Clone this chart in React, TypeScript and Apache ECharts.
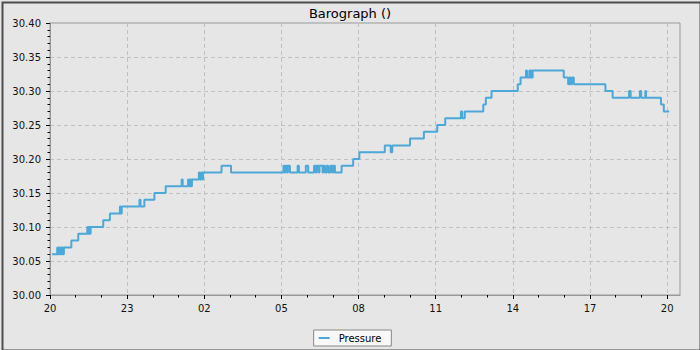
import React, { useEffect, useRef } from "react";
import * as echarts from "echarts";

// hours after 20:00 at which the reading changes, and the reading (inHg) from then on
const hours = [
  0.08, 0.28, 0.31, 0.35, 0.38, 0.42, 0.45, 0.48, 0.51, 0.54, 0.83, 1.1, 1.45, 1.48, 1.52, 1.55, 1.58,
  2.07, 2.33, 2.72, 2.75, 2.79, 3.48, 3.52, 3.67, 4.06, 4.5, 5.12, 5.16, 5.37, 5.41, 5.45, 5.49, 5.52,
  5.79, 5.83, 5.87, 5.91, 5.95, 6.0, 6.67, 7.04, 9.08, 9.12, 9.15, 9.22, 9.25, 9.33, 9.63, 9.68, 9.95,
  10.04, 10.27, 10.33, 10.37, 10.45, 10.48, 10.6, 10.63, 10.69, 10.76, 10.82, 10.9, 10.97, 11.02, 11.08,
  11.34, 11.79, 12.03, 13.02, 13.25, 13.31, 14.0, 14.54, 15.06, 15.37, 15.98, 16.03, 16.13, 16.85,
  16.95, 17.17, 18.19, 18.3, 18.51, 18.55, 18.64, 18.67, 18.7, 18.73, 18.77, 19.98, 20.15, 20.2, 20.25,
  20.3, 20.37, 21.6, 21.88, 22.52, 22.58, 22.94, 22.99, 23.15, 23.18, 23.76, 23.87, 24.08,
];
const pressures = [
  30.06, 30.07, 30.06, 30.07, 30.06, 30.07, 30.06, 30.07, 30.06, 30.07, 30.08, 30.09, 30.1, 30.09, 30.1, 30.09, 30.1,
  30.11, 30.12, 30.13, 30.12, 30.13, 30.14, 30.13, 30.14, 30.15, 30.16, 30.17, 30.16, 30.17, 30.16, 30.17, 30.16, 30.17,
  30.18, 30.17, 30.18, 30.17, 30.18, 30.18, 30.19, 30.18, 30.19, 30.18, 30.19, 30.18, 30.19, 30.18, 30.19, 30.18, 30.19,
  30.18, 30.19, 30.18, 30.19, 30.18, 30.19, 30.18, 30.19, 30.18, 30.19, 30.18, 30.19, 30.18, 30.19, 30.18,
  30.19, 30.2, 30.21, 30.22, 30.21, 30.22, 30.23, 30.24, 30.25, 30.26, 30.27, 30.26, 30.27, 30.28,
  30.29, 30.3, 30.31, 30.32, 30.33, 30.32, 30.33, 30.32, 30.33, 30.32, 30.33, 30.32, 30.31, 30.32, 30.31,
  30.32, 30.31, 30.3, 30.29, 30.3, 30.29, 30.3, 30.29, 30.3, 30.29, 30.28, 30.27, 30.27,
];

const startHour = 20;
const majorTickHours = [0, 3, 6, 9, 12, 15, 18, 21, 24];
const minorTickHours = [1, 2, 4, 5, 7, 8, 10, 11, 13, 14, 16, 17, 19, 20, 22, 23];
const seriesName = "Pressure";
const chartTitle = "Barograph ()";

const FONT = "DejaVu Sans";

export default function App() {
  const ref = useRef<HTMLDivElement>(null);
  useEffect(() => {
    if (!ref.current) return;
    const chart = echarts.init(ref.current, null, { renderer: "svg" });
    const data = hours.map((h, i) => [h, pressures[i]]);
    chart.setOption({
      animation: false,
      backgroundColor: "#e6e6e6",
      textStyle: { fontFamily: FONT },
      title: {
        text: chartTitle,
        left: "center",
        top: 2,
        textStyle: { fontFamily: FONT, fontSize: 13, fontWeight: "normal", color: "#000" },
      },
      legend: {
        data: [{ name: seriesName, icon: "rect" }],
        left: "center",
        top: 330,
        itemWidth: 11,
        itemHeight: 2,
        padding: [3, 10, 3, 5],
        backgroundColor: "#f8f8f8",
        borderColor: "#888",
        borderWidth: 1,
        borderRadius: 0,
        textStyle: { fontFamily: FONT, fontSize: 10, color: "#000", padding: [0, 0, 0, 4] },
      },
      grid: {
        left: 50,
        top: 23,
        right: 20,
        bottom: 55,
        show: true,
        borderColor: "#999",
        borderWidth: 1,
        backgroundColor: "transparent",
      },
      xAxis: [
        {
          type: "value",
          min: 0,
          max: 24.5,
          interval: 3,
          position: "bottom",
          axisLine: { show: true, lineStyle: { color: "#999" } },
          axisTick: { show: true, length: 4, lineStyle: { color: "#000" }, customValues: majorTickHours },
          axisLabel: {
            customValues: majorTickHours,
            margin: 8,
            fontSize: 10,
            fontFamily: FONT,
            color: "#111",
            formatter: (v: number) => String((startHour + v) % 24).padStart(2, "0"),
          },
          splitLine: { show: true, lineStyle: { color: "#c0c0c0", type: [4, 3] } },
          minorTick: { show: false },
        },
        {
          type: "value",
          min: 0,
          max: 24.5,
          position: "bottom",
          axisLine: { show: false },
          axisTick: { show: true, length: 2.5, lineStyle: { color: "#000" }, customValues: minorTickHours },
          axisLabel: { show: false },
          splitLine: { show: false },
        },
      ],
      yAxis: {
        type: "value",
        min: 30.0,
        max: 30.4,
        interval: 0.05,
        axisLine: { show: true, lineStyle: { color: "#999" } },
        axisTick: { show: true, length: 4, lineStyle: { color: "#000" } },
        minorTick: { show: true, splitNumber: 5, length: 2.5, lineStyle: { color: "#000" } },
        axisLabel: {
          margin: 9,
          fontSize: 10,
          fontFamily: FONT,
          color: "#111",
          formatter: (v: number) => v.toFixed(2),
        },
        splitLine: { show: true, lineStyle: { color: "#c0c0c0", type: [4, 3] } },
      },
      graphic: [
        {
          type: "rect",
          left: 0,
          top: 0,
          shape: { x: 1, y: 1, width: 698, height: 348 },
          style: { fill: "none", stroke: "#4d4d4d", lineWidth: 2 },
          silent: true,
          z: 100,
        },
      ],
      series: [
        {
          name: seriesName,
          type: "line",
          step: "end",
          xAxisIndex: 0,
          data,
          symbol: "none",
          showSymbol: false,
          lineStyle: { color: "#4ba8d8", width: 2 },
          itemStyle: { color: "#4ba8d8" },
        },
      ],
    });
    return () => chart.dispose();
  }, []);
  return (
    <div
      ref={ref}
      style={{ position: "absolute", left: 0, top: 0, width: 700, height: 350 }}
    />
  );
}
